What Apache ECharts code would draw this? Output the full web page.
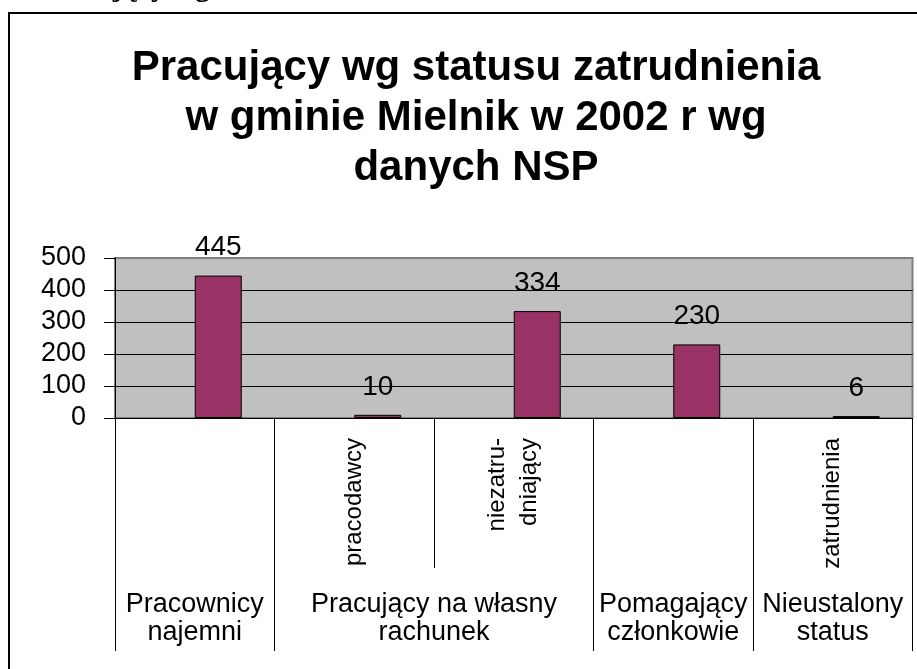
<!DOCTYPE html>
<html>
<head>
<meta charset="utf-8">
<title>Pracujący wg statusu zatrudnienia</title>
<script src="https://cdn.jsdelivr.net/npm/echarts@6/dist/echarts.min.js"></script>
<style>
    html, body { margin: 0; padding: 0; background: #fff; }
    #chart { width: 917px; height: 669px; }
</style>
</head>
<body>
<div id="chart"></div>
<script>
// dane
var subLabels = ['', 'pracodawcy', 'niezatru-\ndniający', '', 'zatrudnienia'];
var groupNames = ['Pracownicy\nnajemni', 'Pracujący na własny\nrachunek', 'Pomagający\nczłonkowie', 'Nieustalony\nstatus'];
var groupSpans = [1, 2, 1, 1];
var values = [445, 10, 334, 230, 6];
var emptySeries = ['-', '-', '-', '-', '-'];
var yMin = 0, yMax = 500, yStep = 100;

var FONT = '"Liberation Sans", Arial, sans-serif';

// group boundaries and label positions, built from the spans
var groupEdges = [0];
var groupMids = [];
for (var i = 0; i < groupSpans.length; i++) {
    var start = groupEdges[groupEdges.length - 1];
    groupMids.push(start + groupSpans[i] / 2);
    groupEdges.push(start + groupSpans[i]);
}

var chart = echarts.init(document.getElementById('chart'));
var option = {
    backgroundColor: '#ffffff',
    animation: false,
    title: {
        text: 'Pracujący wg statusu zatrudnienia\nw gminie Mielnik w 2002 r wg\ndanych NSP',
        left: 471,
        top: 38,
        textAlign: 'center',
        textStyle: {
            fontFamily: FONT,
            fontSize: 42,
            fontWeight: 'bold',
            lineHeight: 50,
            color: '#000'
        }
    },
    graphic: [
        {
            // ramka wykresu (ucięta z prawej i z dołu)
            type: 'rect',
            silent: true,
            z: -1,
            shape: { x: 9, y: 13, width: 1000, height: 1000 },
            style: { fill: 'none', stroke: '#000', lineWidth: 2 }
        },
        {
            // resztka nagłówka dokumentu nad wykresem
            type: 'text',
            silent: true,
            x: 36,
            y: -12,
            style: {
                text: 'Pracujący wg',
                font: 'bold 30px "Liberation Serif", serif',
                fill: '#000',
                verticalAlign: 'middle'
            }
        }
    ],
    grid: {
        left: 115,
        right: 4.5,
        top: 258,
        bottom: 251,
        show: true,
        backgroundColor: '#c0c0c0',
        borderColor: '#808080',
        borderWidth: 2,
        outerBoundsMode: 'none',
        containLabel: false
    },
    xAxis: [
        {
            type: 'category',
            data: subLabels,
            position: 'bottom',
            axisLine: { show: true, lineStyle: { color: '#000', width: 1 } },
            axisTick: { show: true, interval: 0, length: 150, lineStyle: { color: '#000', width: 1 } },
            axisLabel: {
                interval: 0,
                rotate: 90,
                margin: 20,
                fontFamily: FONT,
                fontSize: 24,
                lineHeight: 32,
                color: '#000'
            },
            splitLine: { show: false }
        },
        {
            type: 'value',
            min: 0,
            max: groupEdges[groupEdges.length - 1],
            position: 'bottom',
            offset: 0,
            axisLine: { show: false },
            axisTick: {
                show: true,
                length: 233,
                customValues: groupEdges,
                lineStyle: { color: '#000', width: 1 }
            },
            axisLabel: {
                show: true,
                customValues: groupMids,
                margin: 173,
                fontFamily: FONT,
                fontSize: 27,
                lineHeight: 28,
                color: '#000',
                formatter: function (v) {
                    var idx = groupMids.indexOf(v);
                    return idx >= 0 ? groupNames[idx] : '';
                }
            },
            splitLine: { show: false }
        }
    ],
    yAxis: {
        type: 'value',
        min: yMin,
        max: yMax,
        interval: yStep,
        axisLine: { show: true, lineStyle: { color: '#000', width: 1 } },
        axisTick: { show: true, length: 11, lineStyle: { color: '#000', width: 1 } },
        axisLabel: {
            margin: 29,
            fontFamily: FONT,
            fontSize: 27,
            color: '#000'
        },
        splitLine: {
            show: true,
            showMaxLine: false,
            lineStyle: { color: '#000', width: 1 }
        }
    },
    series: [
        {
            name: 'pusta',
            type: 'bar',
            xAxisIndex: 0,
            barWidth: 47,
            barGap: '0%',
            data: emptySeries
        },
        {
            name: 'Pracujący',
            type: 'bar',
            xAxisIndex: 0,
            barWidth: 47,
            barGap: '0%',
            itemStyle: {
                color: '#993366',
                borderColor: '#000',
                borderWidth: 1
            },
            label: {
                show: true,
                position: 'top',
                distance: 14,
                fontFamily: FONT,
                fontSize: 28,
                color: '#000'
            },
            data: values
        }
    ]
};
chart.setOption(option);
</script>
</body>
</html>
